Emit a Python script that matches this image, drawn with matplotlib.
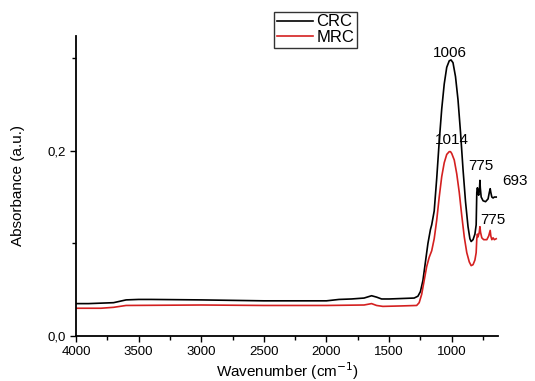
import matplotlib
matplotlib.use("Agg")
import matplotlib.pyplot as plt
from matplotlib.ticker import MultipleLocator, FuncFormatter

plt.rcParams['font.family'] = ['Liberation Sans', 'DejaVu Sans']

# FTIR spectra (wavenumber in cm^-1, absorbance in a.u.)
crc_wn = [4000, 3900, 3800, 3700, 3650, 3600, 3500, 3400, 3000, 2500, 2000, 1900, 1800,
          1700, 1640, 1600, 1560, 1500, 1400, 1300, 1270, 1250, 1230, 1210, 1190, 1170,
          1160, 1140, 1120, 1100, 1080, 1060, 1040, 1020, 1006, 990, 970, 950, 930, 910,
          890, 870, 855, 845, 830, 815, 805, 800, 795, 790, 785, 778, 775, 772, 765, 750,
          730, 710, 700, 693, 688, 680, 670, 660, 645]
crc_abs = [0.035, 0.035, 0.0355, 0.036, 0.0375, 0.039, 0.0395, 0.0395, 0.039, 0.038, 0.038,
           0.0395, 0.040, 0.041, 0.0435, 0.042, 0.040, 0.040, 0.0405, 0.041, 0.043, 0.048,
           0.060, 0.080, 0.100, 0.115, 0.120, 0.135, 0.170, 0.210, 0.245, 0.272, 0.290,
           0.297, 0.298, 0.295, 0.280, 0.255, 0.220, 0.180, 0.145, 0.118, 0.105, 0.102,
           0.104, 0.110, 0.120, 0.155, 0.160, 0.155, 0.152, 0.160, 0.168, 0.160, 0.150,
           0.146, 0.145, 0.148, 0.155, 0.159, 0.155, 0.150, 0.149, 0.150, 0.150]

mrc_wn = [4000, 3800, 3700, 3650, 3600, 3000, 2500, 2000, 1700, 1640, 1600, 1550, 1400,
          1280, 1260, 1240, 1220, 1200, 1180, 1160, 1140, 1120, 1100, 1080, 1060, 1040,
          1020, 1010, 1000, 980, 960, 940, 920, 900, 880, 860, 845, 830, 815, 805, 800,
          795, 790, 780, 775, 770, 760, 745, 720, 705, 693, 688, 680, 670, 660, 645]
mrc_abs = [0.030, 0.030, 0.031, 0.032, 0.033, 0.0335, 0.033, 0.033, 0.0335, 0.035, 0.033,
           0.032, 0.0325, 0.033, 0.036, 0.045, 0.060, 0.075, 0.085, 0.092, 0.105, 0.125,
           0.150, 0.172, 0.187, 0.196, 0.199, 0.199, 0.197, 0.190, 0.175, 0.155, 0.130,
           0.107, 0.090, 0.080, 0.076, 0.077, 0.082, 0.090, 0.105, 0.110, 0.107, 0.112,
           0.118, 0.112, 0.106, 0.104, 0.104, 0.108, 0.114, 0.108, 0.104, 0.106, 0.104,
           0.105]

labels = ["CRC", "MRC"]
colors = ["black", "#d42020"]

# Peak labels: text, anchor wavenumber, absorbance
peak_text = ["1006", "1014", "775", "693", "775"]
peak_wn = [1006, 1014, 775, 693, 775]
peak_y = [0.298, 0.199, 0.168, 0.159, 0.118]

fig = plt.figure(figsize=(5.35, 3.81), dpi=100)
ax = fig.add_axes([0.142, 0.118, 0.789, 0.788])

ax.plot(crc_wn, crc_abs, color=colors[0], lw=1.2, label=labels[0])
ax.plot(mrc_wn, mrc_abs, color=colors[1], lw=1.2, label=labels[1])

ax.set_xlim(4000, 630)
ax.set_ylim(0, 0.324)

# label offsets in points (dx, dy) from each peak
offsets = [(-1, 0), (1, 3), (1, 5), (18, 0.5), (9, 0)]
for t, x, y, (dx, dy) in zip(peak_text, peak_wn, peak_y, offsets):
    ax.annotate(t, (x, y), xytext=(dx, dy), textcoords='offset points',
                fontsize=11, ha='center', va='bottom')

for s in ['top', 'right']:
    ax.spines[s].set_visible(False)
ax.spines['left'].set_linewidth(1.3)
ax.spines['bottom'].set_linewidth(1.3)

ax.xaxis.set_major_locator(MultipleLocator(500))
ax.xaxis.set_minor_locator(MultipleLocator(250))
ax.yaxis.set_major_locator(MultipleLocator(0.2))
ax.yaxis.set_minor_locator(MultipleLocator(0.1))
ax.yaxis.set_major_formatter(FuncFormatter(lambda v, p: f"{v:.1f}".replace('.', ',')))
ax.tick_params(axis='both', which='major', direction='out', length=4, width=1, labelsize=9.5)
ax.tick_params(axis='both', which='minor', direction='out', length=3, width=1)

ax.set_xlabel("Wavenumber (cm$^{-1}$)", fontsize=11, labelpad=1)
ax.set_ylabel("Absorbance (a.u.)", fontsize=11, labelpad=16)

fig.legend(loc='upper left', bbox_to_anchor=(274 / 535, 1 - 12 / 381), fontsize=12,
           handlelength=2.2, fancybox=False, edgecolor='#333333', framealpha=1,
           borderpad=0.15, labelspacing=0.05, handletextpad=0.2, borderaxespad=0)

fig.savefig("out.png", dpi=100)
